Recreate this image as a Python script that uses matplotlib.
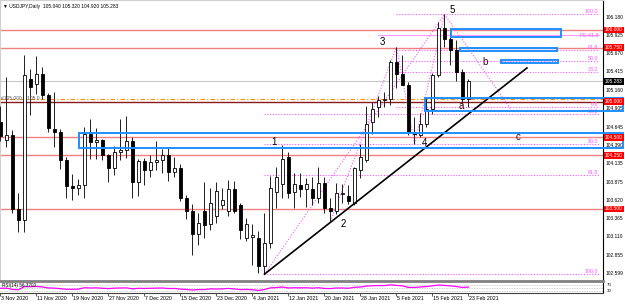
## USDJPY daily chart with wave count, fib levels and zones
from matplotlib import pyplot as plt
from matplotlib.patches import Rectangle
import pandas as pd

plt.rcParams['font.family'] = ['Liberation Sans', 'DejaVu Sans']

# daily bars 3 Nov 2020 .. 23 Feb 2021 (no bars on 25 Dec and 1 Jan)
dates = pd.bdate_range('2020-11-03', '2021-02-23')
dates = dates[~dates.isin(pd.to_datetime(['2020-12-25', '2021-01-01']))]

opens = [104.72, 104.47, 104.53, 103.50, 103.35, 105.31, 105.24, 105.38, 105.09, 104.62,
         104.58, 104.19, 103.82, 103.79, 103.84, 104.55, 104.44, 104.46, 104.25, 104.07,
         104.29, 104.33, 104.45, 103.87, 104.17, 104.05, 104.16, 104.19, 104.26, 104.01,
         104.07, 103.66, 103.47, 103.15, 103.47, 103.29, 103.40, 103.56, 103.47, 103.78,
         103.56, 103.09, 103.11, 103.10, 102.70, 103.02, 103.74, 103.85, 104.23, 103.74,
         103.83, 103.78, 103.78, 103.65, 103.86, 103.52, 103.47, 103.71, 103.68, 103.58,
         104.05, 104.19, 104.72, 104.93, 105.02, 105.04, 105.55, 105.38, 105.23, 104.58,
         104.53, 104.69, 104.90, 105.37, 106.03, 105.87, 105.72, 105.42, 105.04]
highs = [104.94, 105.34, 104.60, 103.72, 105.65, 105.45, 105.64, 105.48, 105.12, 105.14,
         104.62, 104.23, 103.99, 103.92, 104.65, 104.76, 104.63, 104.48, 104.27, 104.38,
         104.76, 104.80, 104.51, 104.20, 104.21, 104.25, 104.45, 104.34, 104.36, 104.22,
         104.13, 103.70, 103.57, 103.45, 103.88, 103.80, 103.88, 103.79, 103.90, 103.89,
         103.58, 103.38, 103.29, 103.19, 103.44, 103.96, 104.08, 104.40, 104.30, 104.00,
         104.00, 103.93, 103.95, 104.09, 103.95, 103.65, 103.86, 103.85, 103.84, 104.09,
         104.41, 104.94, 105.00, 105.08, 105.14, 105.58, 105.76, 105.65, 105.28, 104.78,
         104.84, 105.05, 105.40, 106.11, 106.22, 105.96, 105.86, 105.46, 105.32]
lows = [104.45, 104.37, 103.44, 103.18, 103.18, 104.81, 105.10, 105.03, 104.58, 104.36,
        104.06, 103.66, 103.63, 103.69, 103.65, 104.20, 104.20, 104.19, 103.88, 103.98,
        104.18, 104.21, 103.66, 103.68, 103.83, 103.94, 104.05, 104.00, 103.89, 103.95,
        103.61, 103.36, 102.86, 103.00, 103.09, 103.20, 103.30, 103.50, 103.40, 103.45,
        103.08, 103.05, 102.72, 102.61, 102.59, 102.95, 103.52, 103.66, 103.66, 103.52,
        103.67, 103.53, 103.55, 103.58, 103.45, 103.33, 103.43, 103.59, 103.57, 103.55,
        103.93, 104.15, 104.55, 104.78, 104.92, 104.95, 105.19, 105.24, 104.53, 104.41,
        104.50, 104.64, 104.83, 105.35, 105.76, 105.51, 105.29, 104.96, 104.92]
closes = [104.52, 104.53, 103.50, 103.35, 105.37, 105.21, 105.39, 105.09, 104.63, 104.57,
          104.19, 103.82, 103.79, 103.84, 104.55, 104.44, 104.46, 104.25, 104.07, 104.29,
          104.33, 104.45, 103.87, 104.17, 104.05, 104.16, 104.19, 104.26, 104.01, 104.07,
          103.66, 103.47, 103.15, 103.31, 103.27, 103.58, 103.75, 103.62, 103.78, 103.47,
          103.20, 103.29, 103.14, 102.71, 103.03, 103.79, 103.94, 104.20, 103.72, 103.85,
          103.78, 103.85, 103.65, 103.86, 103.52, 103.47, 103.72, 103.73, 103.61, 104.07,
          104.23, 104.69, 104.90, 105.02, 105.04, 105.55, 105.38, 105.23, 104.58, 104.55,
          104.69, 104.90, 105.37, 106.03, 105.87, 105.72, 105.42, 105.04, 105.283]

rsi = [48, 49, 40, 38, 60, 59, 61, 57, 50, 49, 45, 41, 41, 42, 52, 50, 51, 48, 46, 49,
       50, 51, 44, 48, 47, 48, 49, 50, 46, 47, 42, 40, 36, 39, 39, 44, 43, 44, 47, 43,
       39, 40, 38, 33, 39, 51, 53, 57, 50, 52, 51, 52, 49, 52, 47, 46, 50, 50, 48, 55,
       57, 63, 66, 67, 67, 72, 68, 65, 54, 54, 57, 60, 65, 71, 68, 65, 60, 54, 56.37]

# horizontal levels
red_levels = [106.00, 105.75, 104.50, 104.25, 103.50]
key_level = 105.00
last_price = 105.283

# wave labels (bar, price, text)
wave_bar = [45.6, 57.1, 63.6, 70.75, 75.25, 76.75, 80.75, 86.25]
wave_price = [104.44, 103.29, 105.83, 104.42, 106.28, 104.94, 105.55, 104.51]
wave_text = ['1', '2', '3', '4', '5', 'a', 'b', 'c']

# blue zones (bar from, bar to, price low, price high)
zone_x0 = [75.1, 76.6, 83.4, 70.75, 13.1]
zone_x1 = [93.4, 92.75, 92.9, 103.75, 103.75]
zone_lo = [105.90, 105.707, 105.539, 104.869, 104.352]
zone_hi = [106.014, 105.749, 105.581, 105.050, 104.561]

# fibonacci retracements
fib1_start, fib1_hi, fib1_lo = 44, 106.22, 102.59
fib1_levels = [38.2, 50.0, 61.8, 100.0]
fib2_start, fib2_lo, fib2_hi = 66, 104.92, 106.22
fib2_levels = [0.0, 38.2, 50.0, 61.8, 100.0]
fe_level = 105.93

# dotted wave lines (bar, price pairs)
wave_lines = [([44, 74], [102.59, 106.22]),
              ([55, 66], [103.33, 105.76]),
              ([66, 69], [105.76, 104.41]),
              ([69, 74], [104.41, 106.22]),
              ([74, 85], [106.22, 104.90])]
trend_x = [44, 87.75]
trend_y = [102.59, 105.47]

price_ticks = [106.180, 105.925, 105.670, 105.415, 105.160, 104.905, 104.645, 104.390,
               104.135, 103.875, 103.620, 103.365, 103.110, 102.855, 102.599]

W, H = 625, 304
fig = plt.figure(figsize=(W / 100, H / 100), dpi=100)
ax = fig.add_axes([0, 1 - 281 / H, 603 / W, 281 / H])
rax = fig.add_axes([0, 11 / H, 603 / W, 10 / H])

xlo, xhi = -0.083, 100.42
ax.set_xlim(xlo, xhi)
ax.set_ylim(102.494, 106.419)

# levels
for lv in red_levels:
    ax.axhline(lv, color='#f08080', lw=1, zorder=1)
ax.axhline(last_price, color='#c8c8c8', lw=0.8, zorder=1)
ax.axhline(key_level, color='#8b1a1a', lw=1, zorder=1)
ax.axhline(key_level + 0.03, color='#ff8c00', lw=0.8, ls=(0, (4, 2, 1, 2)), zorder=1)

# fib levels
for lv in fib1_levels:
    p = fib1_hi - lv / 100 * (fib1_hi - fib1_lo)
    ax.plot([fib1_start, 99.8], [p, p], color='#ff55ff', lw=0.8, ls=(0, (1, 1.5)), zorder=1)
    ax.text(99.6, p, '%.1f' % lv, color='#ff55ff', fontsize=3.8, ha='right', va='bottom')
for lv in fib2_levels:
    p = fib2_lo + lv / 100 * (fib2_hi - fib2_lo)
    ax.plot([fib2_start, 99.8], [p, p], color='#ff55ff', lw=0.8, ls=(0, (1, 1.5)), zorder=1)
    ax.text(99.6, p, '%.1f' % lv, color='#ff55ff', fontsize=3.8, ha='right', va='bottom')
ax.plot([63, 99.8], [fe_level, fe_level], color='#ff99ff', lw=0.8, zorder=1)
ax.text(99.6, fe_level, 'FE 61.8', color='#ff55ff', fontsize=3.8, ha='right', va='center')

for xs, ys in wave_lines:
    ax.plot(xs, ys, color='#ff55ff', lw=0.8, ls=(0, (1, 1.5)), zorder=2)
ax.plot(trend_x, trend_y, color='black', lw=1.2, zorder=4)

# candles
for i in range(len(opens)):
    o, h, l, c = opens[i], highs[i], lows[i], closes[i]
    ax.vlines(i, l, h, color='#202020', lw=0.7, zorder=3)
    body = max(abs(c - o), 0.012)
    if c >= o:
        ax.bar(i, body, bottom=o, width=0.6, color='white', edgecolor='black', lw=0.6, zorder=3)
    else:
        ax.bar(i, body, bottom=c, width=0.6, color='black', edgecolor='black', lw=0.6, zorder=3)

# zones
for x0, x1, lo, hi in zip(zone_x0, zone_x1, zone_lo, zone_hi):
    ax.add_patch(Rectangle((x0, lo), x1 - x0, hi - lo, fill=False, ec='#1e90ff',
                           lw=1.4, clip_on=False, zorder=5))

for bx, py, t in zip(wave_bar, wave_price, wave_text):
    col = 'black' if t.isdigit() else '#3a0a0a'
    ax.text(bx, py, t, fontsize=7, color=col, ha='center', va='center', zorder=6)

# price scale on the right
yt = ax.get_yaxis_transform()
for p in price_ticks:
    ax.text(1.004, p, '%.3f' % p, transform=yt, fontsize=3.5, va='center', ha='left', clip_on=False)
for lv in red_levels + [key_level]:
    ax.text(1.003, lv, '%.3f' % lv, transform=yt, fontsize=3.5, va='center', ha='left', color='white',
            bbox=dict(boxstyle='square,pad=0.2', fc='#ff0000', ec='none'), clip_on=False, zorder=7)
ax.text(1.003, last_price, '%.3f' % last_price, transform=yt, fontsize=3.5, va='center', ha='left',
        color='white', bbox=dict(boxstyle='square,pad=0.2', fc='black', ec='none'), clip_on=False, zorder=7)

ax.text(0.005, 0.985, '\u25bc USDJPY,Daily  %.3f %.3f %.3f %.3f' % (opens[-1], highs[-1], lows[-1], closes[-1]),
        transform=ax.transAxes, fontsize=3.5, va='top', ha='left')
ax.text(0.008, key_level + 0.01, '#105.000    105.0 \u2191', fontsize=3.5, va='bottom', ha='left', color='#555555')

ax.set_xticks([])
ax.set_yticks([])
for s in ['left', 'top']:
    ax.spines[s].set_color('#d0d0d0')
ax.spines['right'].set_color('black')
ax.spines['bottom'].set_color('#808080')
ax.spines['bottom'].set_linewidth(2)

# RSI window
rax.set_xlim(xlo, xhi)
rax.set_ylim(15, 85)
for lv in [70, 50, 30]:
    rax.axhline(lv, color='#c0c0c0', lw=0.6, ls=(0, (1, 1)))
rax.plot(range(len(rsi)), rsi, color='#ff00ff', lw=0.9)
rax.text(0.003, 0.95, 'RSI(14) %.4f' % rsi[-1], transform=rax.transAxes, fontsize=3.3, va='top')
rax.text(1.006, 70, '70', transform=rax.get_yaxis_transform(), fontsize=3.2, va='center', clip_on=False)
rax.text(1.006, 30, '30', transform=rax.get_yaxis_transform(), fontsize=3.2, va='center', clip_on=False)
rax.set_yticks([])
rax.set_xticks(range(0, len(dates), 6))
rax.set_xticklabels([])
rax.tick_params(axis='x', length=2, width=0.6, color='#404040')
for s in ['left', 'top']:
    rax.spines[s].set_visible(False)
rax.spines['right'].set_color('black')
rax.spines['bottom'].set_color('#404040')

for i in range(0, len(dates), 6):
    d = dates[i]
    rax.text(i + 0.1, -0.35, '%d %s %d' % (d.day, d.strftime('%b'), d.year), transform=rax.get_xaxis_transform(),
             fontsize=3.8, va='top', ha='left', clip_on=False)

fig.savefig('out.png', dpi=100)
